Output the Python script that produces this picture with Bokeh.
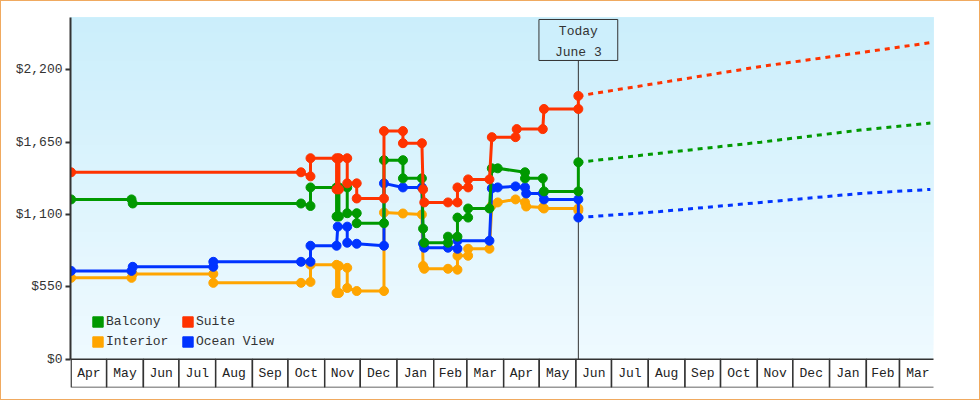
import numpy as np
import pandas as pd
from bokeh.plotting import figure
from bokeh.models import (Range1d, FixedTicker, NumeralTickFormatter, Label,
                          Legend, LegendItem)
from bokeh.embed import file_html
from bokeh.resources import INLINE
from bokeh.core.properties import value

FONT = "Liberation Mono"

# ---------------- data ----------------
month_first = "2017-04-01"
month_labels = ["Apr", "May", "Jun", "Jul", "Aug", "Sep", "Oct", "Nov", "Dec", "Jan", "Feb", "Mar",
                "Apr", "May", "Jun", "Jul", "Aug", "Sep", "Oct", "Nov", "Dec", "Jan", "Feb", "Mar"]
y_ticks = [0, 550, 1100, 1650, 2200]
today = "2018-06-03"
today_text = "Today\nJune 3"

balcony_dates = ["2017-04-01", "2017-05-22", "2017-05-23", "2017-10-12", "2017-10-20", "2017-10-20",
                 "2017-11-11", "2017-11-11", "2017-11-13", "2017-11-13", "2017-11-20", "2017-11-20",
                 "2017-11-28", "2017-11-28", "2017-12-21", "2017-12-21", "2018-01-06", "2018-01-06",
                 "2018-01-22", "2018-01-23", "2018-01-24", "2018-02-13", "2018-02-13", "2018-02-21",
                 "2018-02-21", "2018-03-02", "2018-03-02", "2018-03-20", "2018-03-22", "2018-03-27",
                 "2018-04-19", "2018-04-19", "2018-05-04", "2018-05-05", "2018-06-03", "2018-06-03"]
balcony_prices = [1215, 1215, 1184, 1184, 1165, 1306, 1306, 1085, 1085, 1306, 1306, 1110,
                  1110, 1034, 1034, 1513, 1513, 1375, 1375, 993, 886, 886, 932, 932,
                  1077, 1077, 1146, 1146, 1451, 1451, 1421, 1375, 1375, 1276, 1276, 1497]

suite_dates = ["2017-04-01", "2017-10-12", "2017-10-20", "2017-10-20", "2017-11-11", "2017-11-11",
               "2017-11-13", "2017-11-13", "2017-11-20", "2017-11-20", "2017-11-28", "2017-11-28",
               "2017-12-21", "2017-12-21", "2018-01-06", "2018-01-06", "2018-01-22", "2018-01-23",
               "2018-01-24", "2018-02-13", "2018-02-21", "2018-02-21", "2018-03-02", "2018-03-02",
               "2018-03-20", "2018-03-22", "2018-04-11", "2018-04-12", "2018-05-04", "2018-05-05",
               "2018-06-03", "2018-06-03"]
suite_prices = [1421, 1421, 1390, 1528, 1528, 1291, 1291, 1528, 1528, 1337, 1337, 1222,
                1222, 1734, 1734, 1642, 1642, 1291, 1192, 1192, 1192, 1306, 1306, 1367,
                1367, 1688, 1688, 1749, 1749, 1902, 1902, 2001]

ocean_dates = ["2017-04-01", "2017-05-22", "2017-05-23", "2017-07-30", "2017-07-30", "2017-10-12",
               "2017-10-20", "2017-10-20", "2017-11-11", "2017-11-12", "2017-11-20", "2017-11-20",
               "2017-11-28", "2017-12-21", "2017-12-21", "2018-01-06", "2018-01-22", "2018-01-23",
               "2018-01-24", "2018-02-13", "2018-02-21", "2018-02-21", "2018-03-20", "2018-03-22",
               "2018-03-27", "2018-04-11", "2018-04-19", "2018-04-20", "2018-05-04", "2018-05-05",
               "2018-06-03", "2018-06-03"]
ocean_prices = [672, 672, 703, 703, 741, 741, 741, 863, 863, 1008, 1008, 886,
                878, 863, 1337, 1306, 1306, 878, 848, 848, 840, 901, 901, 1299,
                1306, 1314, 1306, 1260, 1260, 1215, 1215, 1077]

interior_dates = ["2017-04-01", "2017-05-22", "2017-05-23", "2017-07-30", "2017-07-30", "2017-10-12",
                  "2017-10-20", "2017-10-20", "2017-11-11", "2017-11-11", "2017-11-13", "2017-11-13",
                  "2017-11-20", "2017-11-20", "2017-11-28", "2017-12-21", "2017-12-21", "2018-01-06",
                  "2018-01-22", "2018-01-23", "2018-01-24", "2018-02-13", "2018-02-21", "2018-02-21",
                  "2018-03-02", "2018-03-02", "2018-03-20", "2018-03-22", "2018-03-27", "2018-04-11",
                  "2018-04-19", "2018-04-20", "2018-05-04", "2018-05-05", "2018-06-03", "2018-06-03"]
interior_prices = [619, 619, 649, 649, 581, 581, 588, 718, 718, 504, 504, 710,
                   695, 542, 519, 519, 1115, 1108, 1100, 710, 688, 688, 681, 787,
                   787, 840, 840, 1169, 1192, 1215, 1192, 1161, 1153, 1146, 1146, 1130]

proj_dates = ["2018-06-03", "2018-08-11", "2018-11-04", "2019-01-27", "2019-03-27"]
suite_proj = [2001, 2101, 2225, 2330, 2406]
balcony_proj = [1497, 1566, 1650, 1742, 1795]
ocean_proj = [1077, 1123, 1192, 1260, 1291]

# ---------------- styling ----------------
C_BAL = "#009900"
C_SUI = "#ff3300"
C_INT = "#ffa500"
C_OCE = "#0033ff"
INK = "#333333"

x_start = pd.Timestamp("2017-03-31 12:00")
x_end = pd.Timestamp("2019-03-29 16:00")
y_top = 2597
strip = 214

p = figure(width=978, height=398, x_range=Range1d(x_start, x_end),
           y_range=Range1d(-strip, y_top), x_axis_location=None,
           output_backend="svg", toolbar_location=None,
           min_border_left=69, min_border_right=48, min_border_top=16, min_border_bottom=14,
           background_fill_color="white", border_fill_color="white")
p.outline_line_color = None
p.xgrid.visible = False
p.ygrid.visible = False
p.styles = {"border": "1px solid #f0aa60", "box-sizing": "content-box"}

# gradient background (bands stacked from bottom up)
top_rgb = np.array([203, 238, 251])
bot_rgb = np.array([239, 250, 255])
nb = 70
bottoms = np.linspace(0, y_top, nb, endpoint=False)
cols = []
for t in np.linspace(0, 1, nb):
    c = bot_rgb + (top_rgb - bot_rgb) * t
    cols.append("#%02x%02x%02x" % tuple(int(round(v)) for v in c))
p.quad(left=[x_start] * nb, right=[x_end] * nb, bottom=list(bottoms), top=[y_top] * nb,
       fill_color=cols, line_color=None)

# month strip
bounds = pd.date_range(month_first, periods=len(month_labels) + 1, freq="MS")
mids = bounds[:-1] + (bounds[1:] - bounds[:-1]) / 2
p.quad(left=bounds[:-1], right=bounds[1:], bottom=-strip, top=0,
       fill_color="white", line_color=INK, line_width=1.5)
p.text(x=mids, y=[-strip / 2] * len(mids), text=month_labels, text_align="center",
       text_baseline="middle", text_font=value(FONT), text_font_size="13px", text_color="#222222")

# today line
t_today = pd.Timestamp(today)
p.segment(x0=[t_today], y0=[0], x1=[t_today], y1=[2400], line_color=INK, line_width=1)

# projections
pd_dates = pd.to_datetime(proj_dates)
for vals, c in [(suite_proj, C_SUI), (balcony_proj, C_BAL), (ocean_proj, C_OCE)]:
    p.line(pd_dates, vals, line_color=c, line_width=3, line_dash="5 5")

# series
series = [(interior_dates, interior_prices, C_INT),
          (ocean_dates, ocean_prices, C_OCE),
          (balcony_dates, balcony_prices, C_BAL),
          (suite_dates, suite_prices, C_SUI)]
for d, v, c in series:
    dd = pd.to_datetime(d)
    p.line(dd, v, line_color=c, line_width=3)
    p.scatter(dd, v, marker="circle", size=9, color=c)

# y axis
ax = p.yaxis[0]
ax.ticker = FixedTicker(ticks=y_ticks)
ax.formatter = NumeralTickFormatter(format="$0,0")
ax.bounds = (0, y_top)
ax.axis_line_color = INK
ax.axis_line_width = 2
ax.major_tick_line_color = INK
ax.major_tick_line_width = 2
ax.major_tick_in = 0
ax.major_tick_out = 5
ax.minor_tick_line_color = None
ax.major_label_standoff = 3
ax.major_label_text_font = FONT
ax.major_label_text_font_size = "13px"
ax.major_label_text_color = INK

# today label
lab = Label(x=t_today, y=2582, text=today_text, text_align="center", text_baseline="top",
            text_font=FONT, text_font_size="13px", text_color=INK, text_line_height=1.4,
            background_fill_color="#cdeffc", border_line_color=INK, border_line_width=1,
            padding=dict(left=16, right=16, top=5, bottom=0))
p.add_layout(lab)

# legend swatches (no visible marks in the plot)
sw = {}
for name, c in [("Balcony", C_BAL), ("Interior", C_INT), ("Suite", C_SUI), ("Ocean View", C_OCE)]:
    sw[name] = p.quad(left=[np.nan], right=[np.nan], bottom=[np.nan], top=[np.nan],
                      fill_color=c, line_color=c)
legend = Legend(items=[LegendItem(label=k, renderers=[r]) for k, r in sw.items()],
                location=(21, 36), orientation="vertical", nrows=2,
                glyph_width=13, glyph_height=13, label_standoff=2, label_width=75,
                label_height=20, spacing=0, padding=0, margin=0,
                label_text_font=FONT, label_text_font_size="13px", label_text_color=INK,
                background_fill_alpha=0, border_line_color=None)
p.add_layout(legend)

open("out.html", "w").write(file_html(p, INLINE))
